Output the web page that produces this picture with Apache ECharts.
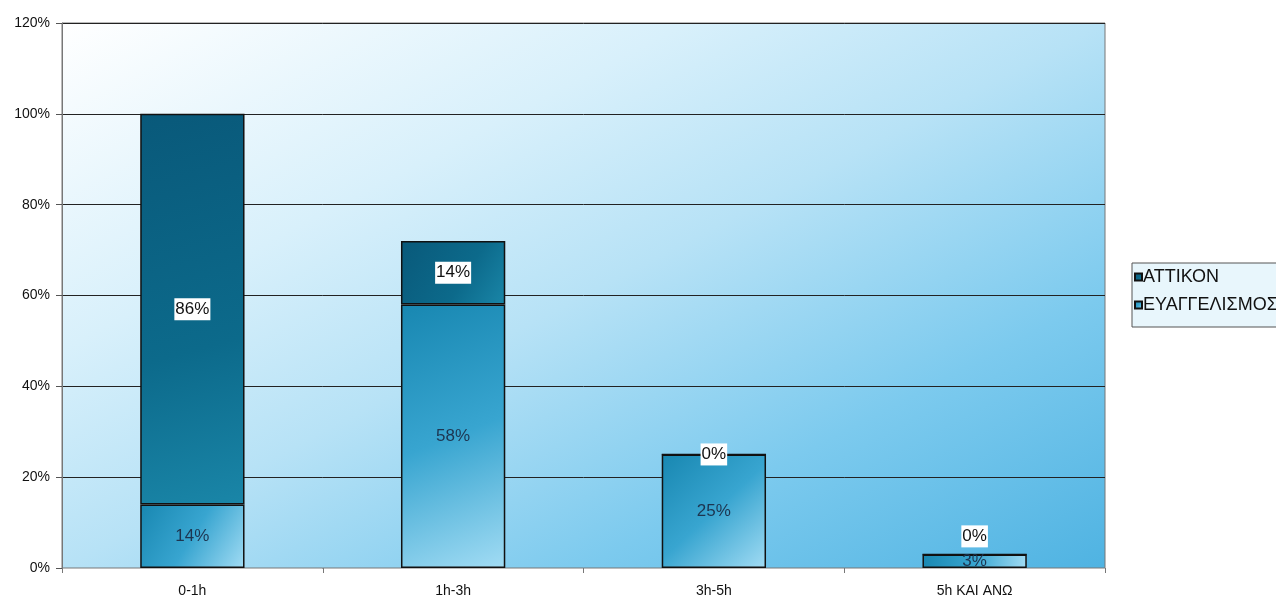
<!DOCTYPE html>
<html>
<head>
<meta charset="utf-8">
<script src="https://cdn.jsdelivr.net/npm/echarts@6/dist/echarts.min.js"></script>
<style>
html,body{margin:0;padding:0;background:#fff;}
#chart{width:1276px;height:600px;}
</style>
</head>
<body>
<div id="chart"></div>
<script>
const categories = ['0-1h', '1h-3h', '3h-5h', '5h ΚΑΙ ΑΝΩ'];
const evangelismos = [14, 58, 25, 3];
const attikon = [86, 14, 0, 0];
const yTicks = [0, 20, 40, 60, 80, 100, 120];

const chart = echarts.init(document.getElementById('chart'));
const font = 'Liberation Sans, Arial, sans-serif';

const darkGrad = new echarts.graphic.LinearGradient(0, 0, 1, 1, [
  {offset: 0, color: '#09597a'},
  {offset: 0.6, color: '#0c6a8b'},
  {offset: 1, color: '#1a86a8'}
]);
const lightGrad = new echarts.graphic.LinearGradient(0, 0, 1, 1, [
  {offset: 0, color: '#1887b1'},
  {offset: 0.5, color: '#38a5d0'},
  {offset: 1, color: '#a2dcf4'}
]);

const attikonData = attikon.map((v, i) => {
  const item = {value: v};
  if (i === categories.length - 1) item.label = {offset: [0, -18]};
  return item;
});

chart.setOption({
  animation: false,
  backgroundColor: '#ffffff',
  textStyle: {fontFamily: font},
  grid: {
    left: 62, right: 171, top: 23, bottom: 32,
    show: true,
    borderColor: '#777',
    borderWidth: 1,
    backgroundColor: new echarts.graphic.LinearGradient(62, 23, 509, 879, [
      {offset: 0, color: '#ffffff'},
      {offset: 0.3, color: '#d8f0fb'},
      {offset: 0.5, color: '#b7e2f6'},
      {offset: 0.75, color: '#7ccaee'},
      {offset: 1, color: '#4fb3e2'}
    ], true)
  },
  legend: {
    orient: 'vertical',
    left: 1132, top: 263,
    data: ['ΑΤΤΙΚΟΝ', 'ΕΥΑΓΓΕΛΙΣΜΟΣ'],
    itemWidth: 7, itemHeight: 7,
    itemGap: 8,
    padding: [4, 60, 12, 2],
    borderColor: '#555', borderWidth: 1,
    backgroundColor: '#e8f6fc',
    icon: 'rect',
    textStyle: {fontSize: 18, lineHeight: 20, color: '#111', fontFamily: font, padding: [0, 0, 0, -4]},
    selectedMode: false
  },
  xAxis: {
    type: 'category',
    data: categories,
    axisLine: {show: true, lineStyle: {color: '#bbb', width: 1}},
    axisTick: {show: true, length: 5, lineStyle: {color: '#777'}},
    axisLabel: {fontSize: 14, color: '#111', margin: 16, fontFamily: font},
    splitLine: {show: false}
  },
  yAxis: {
    type: 'value',
    min: 0, max: 120, interval: 20,
    axisLine: {show: true, lineStyle: {color: '#777', width: 1}},
    axisTick: {show: true, length: 6, lineStyle: {color: '#555'}},
    axisLabel: {fontSize: 14, color: '#111', margin: 12, fontFamily: font,
      formatter: v => yTicks.includes(v) ? v + '%' : ''},
    splitLine: {show: true, lineStyle: {color: '#222', width: 1}}
  },
  series: [
    {
      name: 'ΕΥΑΓΓΕΛΙΣΜΟΣ',
      type: 'bar',
      stack: 'total',
      barWidth: '40%',
      data: evangelismos,
      itemStyle: {color: lightGrad, borderColor: '#111', borderWidth: 1.5},
      label: {
        show: true, position: 'inside',
        formatter: p => p.value + '%',
        fontSize: 17, color: '#1d3550', fontFamily: font
      }
    },
    {
      name: 'ΑΤΤΙΚΟΝ',
      type: 'bar',
      stack: 'total',
      barWidth: '40%',
      data: attikonData,
      itemStyle: {color: darkGrad, borderColor: '#111', borderWidth: 1.5},
      label: {
        show: true, position: 'inside',
        formatter: p => p.value + '%',
        fontSize: 17, color: '#111', fontFamily: font,
        backgroundColor: '#ffffff', padding: [3, 1, 2, 1]
      }
    }
  ]
});
</script>
</body>
</html>
